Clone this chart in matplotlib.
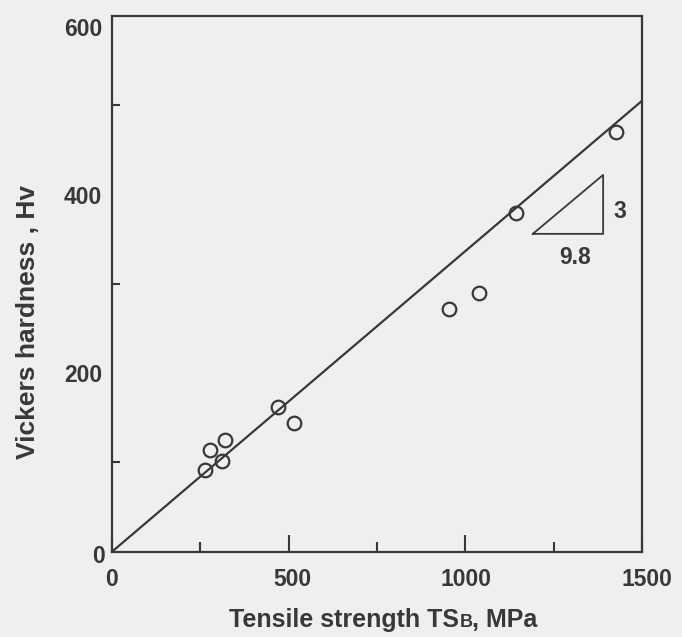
import matplotlib
matplotlib.use("Agg")
import matplotlib.pyplot as plt
import matplotlib.transforms as mtransforms
from matplotlib.offsetbox import TextArea, HPacker, AnnotationBbox

# ---- data ----
ts_mpa = [263, 277, 312, 320, 471, 515, 955, 1040, 1142, 1425]
hv_val = [91, 114, 102, 125, 162, 144, 272, 290, 379, 470]
fit_ts = [0, 1500]
fit_hv = [0, 505]
tri_ts = [1191, 1390, 1390, 1191]
tri_hv = [356, 356, 422, 356]
x_major = [0, 500, 1000, 1500]
x_minor = [250, 750, 1250]
y_major = [0, 200, 400, 600]
y_minor = [100, 300, 500]
x_ticklabels = ["0", "500", "1000", "1500"]
y_ticklabels = ["0", "200", "400", "600"]

INK = "#383838"
BG = "#efefef"
plt.rcParams["font.family"] = ["Liberation Sans", "DejaVu Sans"]

W, H = 682, 637
fig = plt.figure(figsize=(W / 100, H / 100), dpi=100, facecolor=BG)
ax = fig.add_axes([112 / W, 1 - 551.7 / H, 530 / W, 535.7 / H])
ax.set_facecolor(BG)

ax.plot(fit_ts, fit_hv, color=INK, lw=1.6, solid_capstyle="butt")
ax.plot(ts_mpa, hv_val, "o", ms=9.8, mfc="none", mec=INK, mew=1.6)
ax.plot(tri_ts, tri_hv, color=INK, lw=1.3)
ax.text(1438, 381, "3", ha="center", va="center", fontsize=16.5,
        fontweight="bold", color=INK)
ax.text(1310, 330, "9.8", ha="center", va="center", fontsize=16.5,
        fontweight="bold", color=INK)

ax.set_xlim(0, 1500)
ax.set_ylim(0, 600)
ax.set_xticks(x_major)
ax.set_xticklabels(x_ticklabels)
ax.set_xticks(x_minor, minor=True)
ax.set_yticks(y_major)
ax.set_yticklabels(y_ticklabels)
ax.set_yticks(y_minor, minor=True)

ax.tick_params(axis="x", which="major", direction="in", length=12, width=1.5,
               pad=12, labelsize=16.5, color=INK, labelcolor=INK)
ax.tick_params(axis="x", which="minor", direction="in", length=7, width=1.5,
               color=INK)
ax.tick_params(axis="y", which="major", direction="in", length=0, width=1.5,
               pad=7, labelsize=16.5, color=INK, labelcolor=INK)
ax.tick_params(axis="y", which="minor", direction="in", length=6, width=1.5,
               color=INK)

for sp in ax.spines.values():
    sp.set_color(INK)
    sp.set_linewidth(1.6)

x_shift_px = [0, 4, 1, 5]
for lab, dx in zip(ax.get_xticklabels(), x_shift_px):
    lab.set_fontweight("bold")
    lab.set_transform(lab.get_transform() +
                      mtransforms.ScaledTranslation(dx / 100, 0, fig.dpi_scale_trans))
ylabs = ax.get_yticklabels()
for lab in ylabs:
    lab.set_fontweight("bold")
ylabs[-1].set_transform(ylabs[-1].get_transform() +
                        mtransforms.ScaledTranslation(0, -11 / 100, fig.dpi_scale_trans))
ylabs[0].set_transform(ylabs[0].get_transform() +
                       mtransforms.ScaledTranslation(3 / 100, -2 / 100, fig.dpi_scale_trans))

ax.set_ylabel("Vickers hardness , Hv", fontsize=19, fontweight="bold",
              color=INK, va="center")
ax.yaxis.set_label_coords((28 - 112) / 530, (551.7 - 322) / 535.7)

tp_big = dict(size=18, weight="bold", color=INK)
tp_small = dict(size=13, weight="bold", color=INK)
pack = HPacker(children=[TextArea("Tensile strength TS", textprops=tp_big),
                         TextArea("B", textprops=tp_small),
                         TextArea(", MPa", textprops=tp_big)],
               align="baseline", pad=0, sep=0)
ab = AnnotationBbox(pack, (383.5, H - 620), xycoords="figure pixels",
                    frameon=False, box_alignment=(0.5, 0.5))
fig.add_artist(ab)

fig.savefig("out.png", dpi=100, facecolor=BG)
